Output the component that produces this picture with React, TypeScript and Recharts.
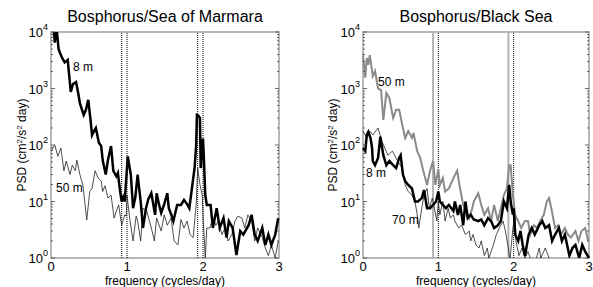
import React from "react";
import {
  LineChart,
  Line,
  XAxis,
  YAxis,
  ReferenceLine,
  ReferenceArea,
} from "recharts";

// frequency (cycles/day) and PSD (cm^2/s^2 day)
const marmara8mFreq = [0, 0.03, 0.05, 0.07, 0.1, 0.12, 0.15, 0.18, 0.22, 0.26, 0.29, 0.33, 0.36, 0.38, 0.43, 0.46, 0.49, 0.52, 0.54, 0.57, 0.59, 0.63, 0.66, 0.68, 0.72, 0.75, 0.79, 0.82, 0.86, 0.88, 0.91, 0.93, 0.95, 0.97, 1.01, 1.05, 1.08, 1.11, 1.14, 1.18, 1.21, 1.25, 1.28, 1.32, 1.37, 1.39, 1.42, 1.45, 1.49, 1.53, 1.55, 1.58, 1.61, 1.66, 1.71, 1.75, 1.79, 1.82, 1.86, 1.89, 1.91, 1.92, 1.94, 1.96, 1.97, 1.99, 2.0, 2.01, 2.03, 2.05, 2.1, 2.13, 2.18, 2.22, 2.27, 2.31, 2.34, 2.39, 2.44, 2.49, 2.53, 2.6, 2.64, 2.68, 2.72, 2.78, 2.82, 2.86, 2.9, 2.95, 2.99];
const marmara8mPsd = [12000, 14000, 6500, 13000, 5000, 4200, 3400, 2900, 3200, 870, 1200, 1300, 800, 550, 340, 420, 630, 280, 150, 180, 200, 110, 96, 54, 30, 55, 96, 35, 28, 32, 15, 10, 12, 10, 63, 30, 7.6, 12, 30, 10, 3.4, 7.6, 11, 14, 5.8, 14, 9, 6.3, 9, 14, 7.6, 6, 4.5, 8.7, 8.7, 10.6, 9, 7.6, 19.6, 40, 100, 340, 330, 300, 39, 90, 130, 66, 13, 8.7, 8.7, 3.4, 7.6, 3.4, 5.1, 2.3, 4.5, 3.4, 1.13, 3.0, 2.6, 3.8, 5.8, 2.6, 2.0, 3.4, 1.7, 2.6, 1.7, 2.6, 5.1];

const marmara50mFreq = [0, 0.05, 0.09, 0.13, 0.17, 0.2, 0.25, 0.28, 0.32, 0.34, 0.38, 0.42, 0.47, 0.51, 0.54, 0.58, 0.62, 0.66, 0.68, 0.71, 0.75, 0.79, 0.83, 0.86, 0.89, 0.93, 0.97, 0.99, 1.0, 1.04, 1.08, 1.12, 1.14, 1.18, 1.21, 1.26, 1.32, 1.36, 1.39, 1.45, 1.49, 1.53, 1.58, 1.62, 1.67, 1.71, 1.75, 1.79, 1.83, 1.87, 1.91, 1.93, 1.96, 1.99, 2.0, 2.03, 2.05, 2.09, 2.13, 2.17, 2.2, 2.25, 2.29, 2.33, 2.38, 2.42, 2.46, 2.51, 2.55, 2.59, 2.64, 2.68, 2.72, 2.78, 2.82, 2.86, 2.9, 2.95, 2.99];
const marmara50mPsd = [78, 100, 63, 88, 35, 52, 30, 44, 35, 54, 30, 19.6, 4.7, 15, 17, 35, 26, 23, 15, 19, 11.5, 13, 5.1, 6.8, 8.7, 3.8, 5.8, 5.5, 13, 4.5, 2.0, 5.5, 4.5, 2.0, 7.6, 6.8, 3.4, 2.0, 5.1, 3.0, 5.8, 3.8, 5.1, 2.0, 1.7, 4.8, 3.4, 4.5, 2.6, 2.3, 8.7, 39, 20, 13, 5.8, 1.0, 3.4, 3.4, 5.1, 3.8, 4.5, 2.6, 3.4, 2.0, 2.6, 4.5, 5.5, 5.1, 3.4, 5.8, 4.5, 2.0, 3.4, 2.3, 1.5, 1.1, 1.7, 1.0, 2.0];

const black50mFreq = [0, 0.03, 0.05, 0.07, 0.09, 0.13, 0.16, 0.2, 0.24, 0.27, 0.31, 0.35, 0.4, 0.44, 0.48, 0.53, 0.56, 0.6, 0.65, 0.67, 0.72, 0.76, 0.8, 0.85, 0.89, 0.93, 0.96, 1.0, 1.02, 1.06, 1.09, 1.14, 1.2, 1.25, 1.28, 1.33, 1.37, 1.41, 1.45, 1.47, 1.53, 1.57, 1.61, 1.66, 1.7, 1.74, 1.79, 1.83, 1.87, 1.91, 1.94, 1.96, 1.99, 2.02, 2.06, 2.1, 2.15, 2.19, 2.22, 2.27, 2.31, 2.35, 2.4, 2.44, 2.47, 2.5, 2.55, 2.59, 2.63, 2.68, 2.72, 2.76, 2.82, 2.86, 2.9, 2.95, 2.99];
const black50mPsd = [3900, 1550, 3470, 2630, 3900, 1660, 2040, 1000, 940, 277, 830, 680, 300, 420, 420, 200, 133, 177, 133, 163, 78, 59, 35, 19.6, 35, 52, 19.6, 37, 19.6, 26, 15, 17, 26, 35, 19.6, 8.7, 6.8, 5.1, 7.6, 10, 14, 8.7, 5.8, 7.6, 4.5, 8.7, 4.5, 7.6, 13, 17, 44, 44, 13, 5.8, 4.5, 3.4, 4.5, 4.5, 2.6, 3.8, 3.4, 4.5, 5.8, 10, 11.5, 7.6, 3.4, 3.8, 2.6, 3.4, 2.6, 2.3, 3.0, 2.0, 3.0, 3.4, 2.0];

const black8mFreq = [0, 0.03, 0.05, 0.07, 0.1, 0.12, 0.13, 0.16, 0.2, 0.23, 0.27, 0.31, 0.35, 0.4, 0.44, 0.48, 0.5, 0.53, 0.56, 0.6, 0.65, 0.69, 0.73, 0.78, 0.81, 0.85, 0.89, 0.93, 0.97, 1.0, 1.02, 1.06, 1.1, 1.14, 1.2, 1.22, 1.26, 1.29, 1.33, 1.36, 1.39, 1.43, 1.47, 1.53, 1.57, 1.61, 1.66, 1.7, 1.74, 1.79, 1.83, 1.87, 1.91, 1.94, 1.96, 1.99, 2.0, 2.02, 2.06, 2.09, 2.12, 2.15, 2.2, 2.24, 2.28, 2.34, 2.38, 2.42, 2.47, 2.51, 2.55, 2.6, 2.64, 2.68, 2.74, 2.78, 2.82, 2.87, 2.91, 2.95, 3.0];
const black8mPsd = [88, 78, 150, 170, 133, 90, 52, 44, 59, 140, 66, 44, 52, 44, 39, 59, 66, 30, 23, 19.6, 17, 10, 10, 11.5, 16, 7.6, 7.6, 8.7, 10, 15, 10, 8.7, 7.6, 8.7, 6.8, 10, 5.8, 8.7, 3.8, 10, 5.1, 5.8, 4.8, 4.5, 4.8, 3.8, 5.1, 4.5, 3.4, 3.8, 4.5, 10, 7.6, 19.6, 10, 5.8, 7.6, 2.6, 2.0, 3.0, 1.7, 1.1, 2.6, 3.4, 2.6, 3.8, 4.5, 3.4, 3.8, 2.0, 2.6, 3.4, 2.0, 2.6, 1.1, 1.5, 1.7, 1.0, 1.7, 1.3, 1.0];

const black70mFreq = [0, 0.05, 0.09, 0.13, 0.2, 0.25, 0.29, 0.33, 0.39, 0.42, 0.46, 0.52, 0.56, 0.6, 0.65, 0.69, 0.72, 0.74, 0.78, 0.81, 0.85, 0.88, 0.92, 0.94, 0.98, 1.0, 1.02, 1.06, 1.09, 1.13, 1.16, 1.2, 1.22, 1.27, 1.31, 1.36, 1.41, 1.43, 1.46, 1.5, 1.54, 1.57, 1.61, 1.65, 1.67, 1.73, 1.77, 1.81, 1.86, 1.89, 1.93, 1.95, 1.99, 2.02, 2.03, 2.07, 2.11, 2.15, 2.19, 2.22, 2.28, 2.34, 2.36, 2.42, 2.47, 2.55, 2.62, 2.7, 2.78, 2.86, 2.93, 3.0];
const black70mPsd = [177, 133, 177, 150, 200, 117, 88, 66, 78, 66, 52, 39, 19.6, 15, 13, 10, 5.8, 3.4, 7.6, 13, 17, 7.6, 11.5, 8.7, 4.5, 10, 5.8, 10, 4.5, 7.6, 5.1, 5.8, 4.5, 3.4, 3.8, 2.6, 3.0, 2.0, 2.6, 1.7, 1.5, 2.0, 1.1, 1.5, 1.0, 1.7, 2.6, 3.4, 4.5, 3.0, 1.5, 0.9, 3.4, 5.8, 2.0, 1.1, 1.5, 1.0, 1.3, 1.0, 0.8, 1.5, 1.0, 1.5, 1.0, 0.8, 0.9, 0.7, 0.9, 0.8, 0.7, 0.8];

const yMajor = [1, 10, 100, 1000, 10000];
const xTicks = [0, 1, 2, 3];

const rows = (f: number[], v: number[]) => f.map((x, i) => ({ f: x, v: v[i] }));

const yTicks: number[] = [];
yMajor.forEach((d) => {
  if (d === 10000) {
    yTicks.push(d);
    return;
  }
  for (let k = 1; k < 10; k++) yTicks.push(d * k);
});

const FONT = "'Liberation Sans', Arial, sans-serif";
const FRAME = "#a0a0a0";
const PLOT_TOP = 32;
const PLOT_H = 226;

function makeYTick(plotLeft: number, plotRight: number) {
  return (props: any) => {
    const { y, payload } = props;
    const v = payload.value as number;
    const exp = Math.round(Math.log10(v));
    const major = Math.abs(Math.log10(v) - exp) < 1e-6;
    const len = major ? 4 : 2;
    return (
      <g>
        <line x1={plotLeft} x2={plotLeft + len} y1={y} y2={y} stroke="#444" strokeWidth={0.8} />
        <line x1={plotRight - len} x2={plotRight} y1={y} y2={y} stroke="#444" strokeWidth={0.8} />
        {major && (
          <text x={plotLeft - 3} y={y + 5} textAnchor="end" fontSize={13} fill="#000" fontFamily={FONT}>
            <tspan>10</tspan>
            <tspan dy={-7} fontSize={9}>{exp}</tspan>
          </text>
        )}
      </g>
    );
  };
}

type Series = { data: { f: number; v: number }[]; stroke: string; width: number };

function Panel({
  width,
  yAxisWidth,
  marginRight,
  series,
  lineLeft,
}: {
  width: number;
  yAxisWidth: number;
  marginRight: number;
  series: Series[];
  lineLeft: { stroke: string; width: number; dash?: string };
}) {
  const plotLeft = yAxisWidth;
  const plotRight = width - marginRight;
  return (
    <LineChart
      width={width}
      height={287}
      margin={{ top: PLOT_TOP, right: marginRight, left: 0, bottom: 0 }}
    >
      <XAxis
        dataKey="f"
        type="number"
        domain={[0, 3]}
        ticks={xTicks}
        axisLine={false}
        tickLine={false}
        tickSize={3}
        tickMargin={1}
        height={29}
        tick={{ fill: "#000", fontSize: 13, fontFamily: FONT }}
        allowDuplicatedCategory={false}
      />
      <YAxis
        type="number"
        scale="log"
        domain={[1, 10000]}
        allowDataOverflow
        ticks={yTicks}
        interval={0}
        width={yAxisWidth}
        axisLine={false}
        tickLine={false}
        tick={makeYTick(plotLeft, plotRight)}
      />
      {[0.93, 1.93].map((x) => (
        <ReferenceLine
          key={x}
          x={x}
          stroke={lineLeft.stroke}
          strokeWidth={lineLeft.width}
          strokeDasharray={lineLeft.dash}
        />
      ))}
      {[1, 2].map((x) => (
        <ReferenceLine key={x} x={x} stroke="#000" strokeWidth={1} strokeDasharray="1 1" />
      ))}
      {series.map((s, i) => (
        <Line
          key={i}
          data={s.data}
          dataKey="v"
          type="linear"
          stroke={s.stroke}
          strokeWidth={s.width}
          dot={false}
          isAnimationActive={false}
        />
      ))}
      <ReferenceArea
        x1={0}
        x2={3}
        y1={1}
        y2={10000}
        fill="none"
        stroke={FRAME}
        strokeWidth={1.5}
        ifOverflow="visible"
      />
    </LineChart>
  );
}

const abs = (left: number, top: number, extra: React.CSSProperties = {}): React.CSSProperties => ({
  position: "absolute",
  left,
  top,
  fontFamily: FONT,
  color: "#000",
  whiteSpace: "nowrap",
  ...extra,
});

function YLabel({ cx }: { cx: number }) {
  return (
    <div
      style={abs(cx - 60, PLOT_TOP + PLOT_H / 2 - 8, {
        width: 120,
        height: 16,
        textAlign: "center",
        fontSize: 12,
        lineHeight: "16px",
        transform: "rotate(-90deg)",
      })}
    >
      PSD (cm<sup style={{ fontSize: 8, verticalAlign: "4px", lineHeight: 0 }}>2</sup>/s
      <sup style={{ fontSize: 8, verticalAlign: "4px", lineHeight: 0 }}>2</sup> day)
    </div>
  );
}

export default function App() {
  const leftSeries: Series[] = [
    { data: rows(marmara50mFreq, marmara50mPsd), stroke: "#222", width: 0.8 },
    { data: rows(marmara8mFreq, marmara8mPsd), stroke: "#000", width: 2.5 },
  ];
  const rightSeries: Series[] = [
    { data: rows(black70mFreq, black70mPsd), stroke: "#222", width: 0.8 },
    { data: rows(black50mFreq, black50mPsd), stroke: "#8a8a8a", width: 2 },
    { data: rows(black8mFreq, black8mPsd), stroke: "#000", width: 2.5 },
  ];
  return (
    <div style={{ position: "absolute", left: 0, top: 0, width: 593, height: 287, background: "#fff" }}>
      <div style={{ position: "absolute", left: 0, top: 0 }}>
        <Panel
          width={296}
          yAxisWidth={51}
          marginRight={17}
          series={leftSeries}
          lineLeft={{ stroke: "#000", width: 1, dash: "1 1" }}
        />
      </div>
      <div style={{ position: "absolute", left: 296, top: 0 }}>
        <Panel
          width={297}
          yAxisWidth={67}
          marginRight={4}
          series={rightSeries}
          lineLeft={{ stroke: "#b4b4b4", width: 2 }}
        />
      </div>

      <div style={abs(51, 7, { width: 228, textAlign: "center", fontSize: 16, lineHeight: "20px" })}>
        Bosphorus/Sea of Marmara
      </div>
      <div style={abs(363, 7, { width: 226, textAlign: "center", fontSize: 16, lineHeight: "20px" })}>
        Bosphorus/Black Sea
      </div>

      <YLabel cx={22} />
      <YLabel cx={333} />

      <div style={abs(51, 274, { width: 228, textAlign: "center", fontSize: 12, lineHeight: "14px" })}>
        frequency (cycles/day)
      </div>
      <div style={abs(363, 274, { width: 226, textAlign: "center", fontSize: 12, lineHeight: "14px" })}>
        frequency (cycles/day)
      </div>

      <div style={abs(73, 60, { fontSize: 12, lineHeight: "14px" })}>8 m</div>
      <div style={abs(56, 181, { fontSize: 12, lineHeight: "14px" })}>50 m</div>
      <div style={abs(378, 75, { fontSize: 12, lineHeight: "14px" })}>50 m</div>
      <div style={abs(366, 166, { fontSize: 12, lineHeight: "14px" })}>8 m</div>
      <div style={abs(392, 213, { fontSize: 12, lineHeight: "14px" })}>70 m</div>
    </div>
  );
}
